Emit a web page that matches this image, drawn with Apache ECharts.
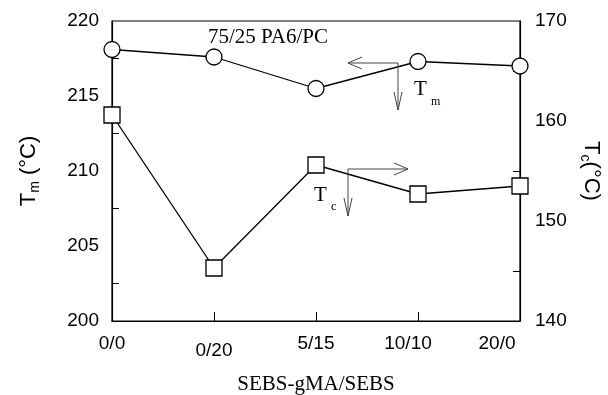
<!DOCTYPE html>
<html>
<head>
<meta charset="utf-8">
<script src="https://cdn.jsdelivr.net/npm/echarts@6/dist/echarts.min.js"></script>
<style>
  html, body { margin: 0; padding: 0; background: #fff; }
  #main { width: 608px; height: 395px; }
</style>
</head>
<body>
<div id="main"></div>
<script>
var categories = ['0/0', '0/20', '5/15', '10/10', '20/0'];
var tmValues = [218.1, 217.6, 215.5, 217.3, 217.0];
var tcValues = [160.6, 145.3, 155.6, 152.7, 153.5];

var sans = 'Liberation Sans, Arial, sans-serif';
var serif = 'Liberation Serif, Times New Roman, serif';

var myChart = echarts.init(document.getElementById('main'));

// thin open-headed arrows used as annotations
function line(points) {
    return { type: 'polyline', shape: { points: points }, style: { stroke: '#444', lineWidth: 1, fill: null }, z: 10 };
}

var graphics = [
    line([[348, 63], [398, 63], [398, 110]]),
    line([[362, 57], [348, 63], [362, 69]]),
    line([[394, 92], [398, 110], [402, 92]]),
    line([[408, 169], [348, 169], [348, 216]]),
    line([[394, 163], [408, 169], [394, 175]]),
    line([[344, 198], [348, 216], [352, 198]]),
    { type: 'text', left: 208, top: 27, style: { text: '75/25 PA6/PC', font: '21px ' + serif, fill: '#000' } },
    { type: 'text', left: 414, top: 79, style: { text: 'T', font: '21px ' + serif, fill: '#000' } },
    { type: 'text', left: 431, top: 96, style: { text: 'm', font: '12px ' + serif, fill: '#000' } },
    { type: 'text', left: 314, top: 185, style: { text: 'T', font: '21px ' + serif, fill: '#000' } },
    { type: 'text', left: 331, top: 201, style: { text: 'c', font: '12px ' + serif, fill: '#000' } }
];

myChart.setOption({
    animation: false,
    backgroundColor: '#fff',
    grid: {
        left: 112,
        right: 88,
        top: 21,
        bottom: 74,
        outerBoundsMode: 'none',
        show: true,
        borderColor: '#000',
        borderWidth: 1.2
    },
    xAxis: {
        type: 'category',
        data: categories,
        boundaryGap: false,
        name: 'SEBS-gMA/SEBS',
        nameLocation: 'middle',
        nameGap: 53,
        nameTextStyle: { fontFamily: serif, fontSize: 21, color: '#000' },
        axisLine: { lineStyle: { color: '#000', width: 1.2 } },
        axisTick: { inside: true, length: 9, interval: 0, lineStyle: { color: '#000' } },
        axisLabel: {
            interval: 0,
            margin: 13,
            fontFamily: sans,
            fontSize: 19,
            color: '#000',
            formatter: function (v) {
                if (v === '0/20') return '{low|' + v + '}';
                if (v === '10/10') return '{l1|' + v + '}';
                if (v === '20/0') return '{l2|' + v + '}';
                return v;
            },
            rich: {
                low: { fontFamily: sans, fontSize: 19, color: '#000', padding: [7, 0, 0, 0] },
                l1: { fontFamily: sans, fontSize: 19, color: '#000', padding: [0, 20, 0, 0] },
                l2: { fontFamily: sans, fontSize: 19, color: '#000', padding: [0, 46, 0, 0] }
            }
        },
        splitLine: { show: false }
    },
    yAxis: [
        {
            type: 'value',
            min: 200,
            max: 220,
            interval: 5,
            name: '{t|T}{s|m}{t| (°C)}',
            nameLocation: 'middle',
            nameGap: 70,
            nameTextStyle: {
                rich: {
                    t: { fontFamily: sans, fontSize: 22, color: '#000' },
                    s: { fontFamily: sans, fontSize: 14, color: '#000', padding: [12, 0, 0, 0] }
                }
            },
            axisLine: { show: true, lineStyle: { color: '#000', width: 1.2 } },
            axisTick: { inside: true, length: 9, lineStyle: { color: '#000' } },
            minorTick: { show: true, splitNumber: 2, length: 7, lineStyle: { color: '#000' } },
            axisLabel: { margin: 13, fontFamily: sans, fontSize: 19, color: '#000' },
            splitLine: { show: false }
        },
        {
            type: 'value',
            min: 140,
            max: 170,
            interval: 10,
            position: 'right',
            name: '{t|T}{s|c}{t|(°C)}',
            nameLocation: 'middle',
            nameGap: 54,
            nameRotate: -90,
            nameTextStyle: {
                rich: {
                    t: { fontFamily: sans, fontSize: 22, color: '#000' },
                    s: { fontFamily: sans, fontSize: 14, color: '#000', padding: [12, 0, 0, 0] }
                }
            },
            axisLine: { show: true, lineStyle: { color: '#000', width: 1.2 } },
            axisTick: { inside: true, length: 9, lineStyle: { color: '#000' } },
            minorTick: { show: true, splitNumber: 2, length: 7, lineStyle: { color: '#000' } },
            axisLabel: { margin: 15, fontFamily: sans, fontSize: 19, color: '#000' },
            splitLine: { show: false }
        }
    ],
    series: [
        {
            name: 'Tm',
            type: 'line',
            yAxisIndex: 0,
            data: tmValues,
            symbol: 'circle',
            symbolSize: 16,
            lineStyle: { color: '#000', width: 1.3 },
            itemStyle: { color: '#fff', borderColor: '#000', borderWidth: 1.3 },
            z: 3
        },
        {
            name: 'Tc',
            type: 'line',
            yAxisIndex: 1,
            data: tcValues,
            symbol: 'rect',
            symbolSize: 16,
            lineStyle: { color: '#000', width: 1.3 },
            itemStyle: { color: '#fff', borderColor: '#000', borderWidth: 1.3 },
            z: 3
        }
    ],
    graphic: graphics
});
</script>
</body>
</html>
